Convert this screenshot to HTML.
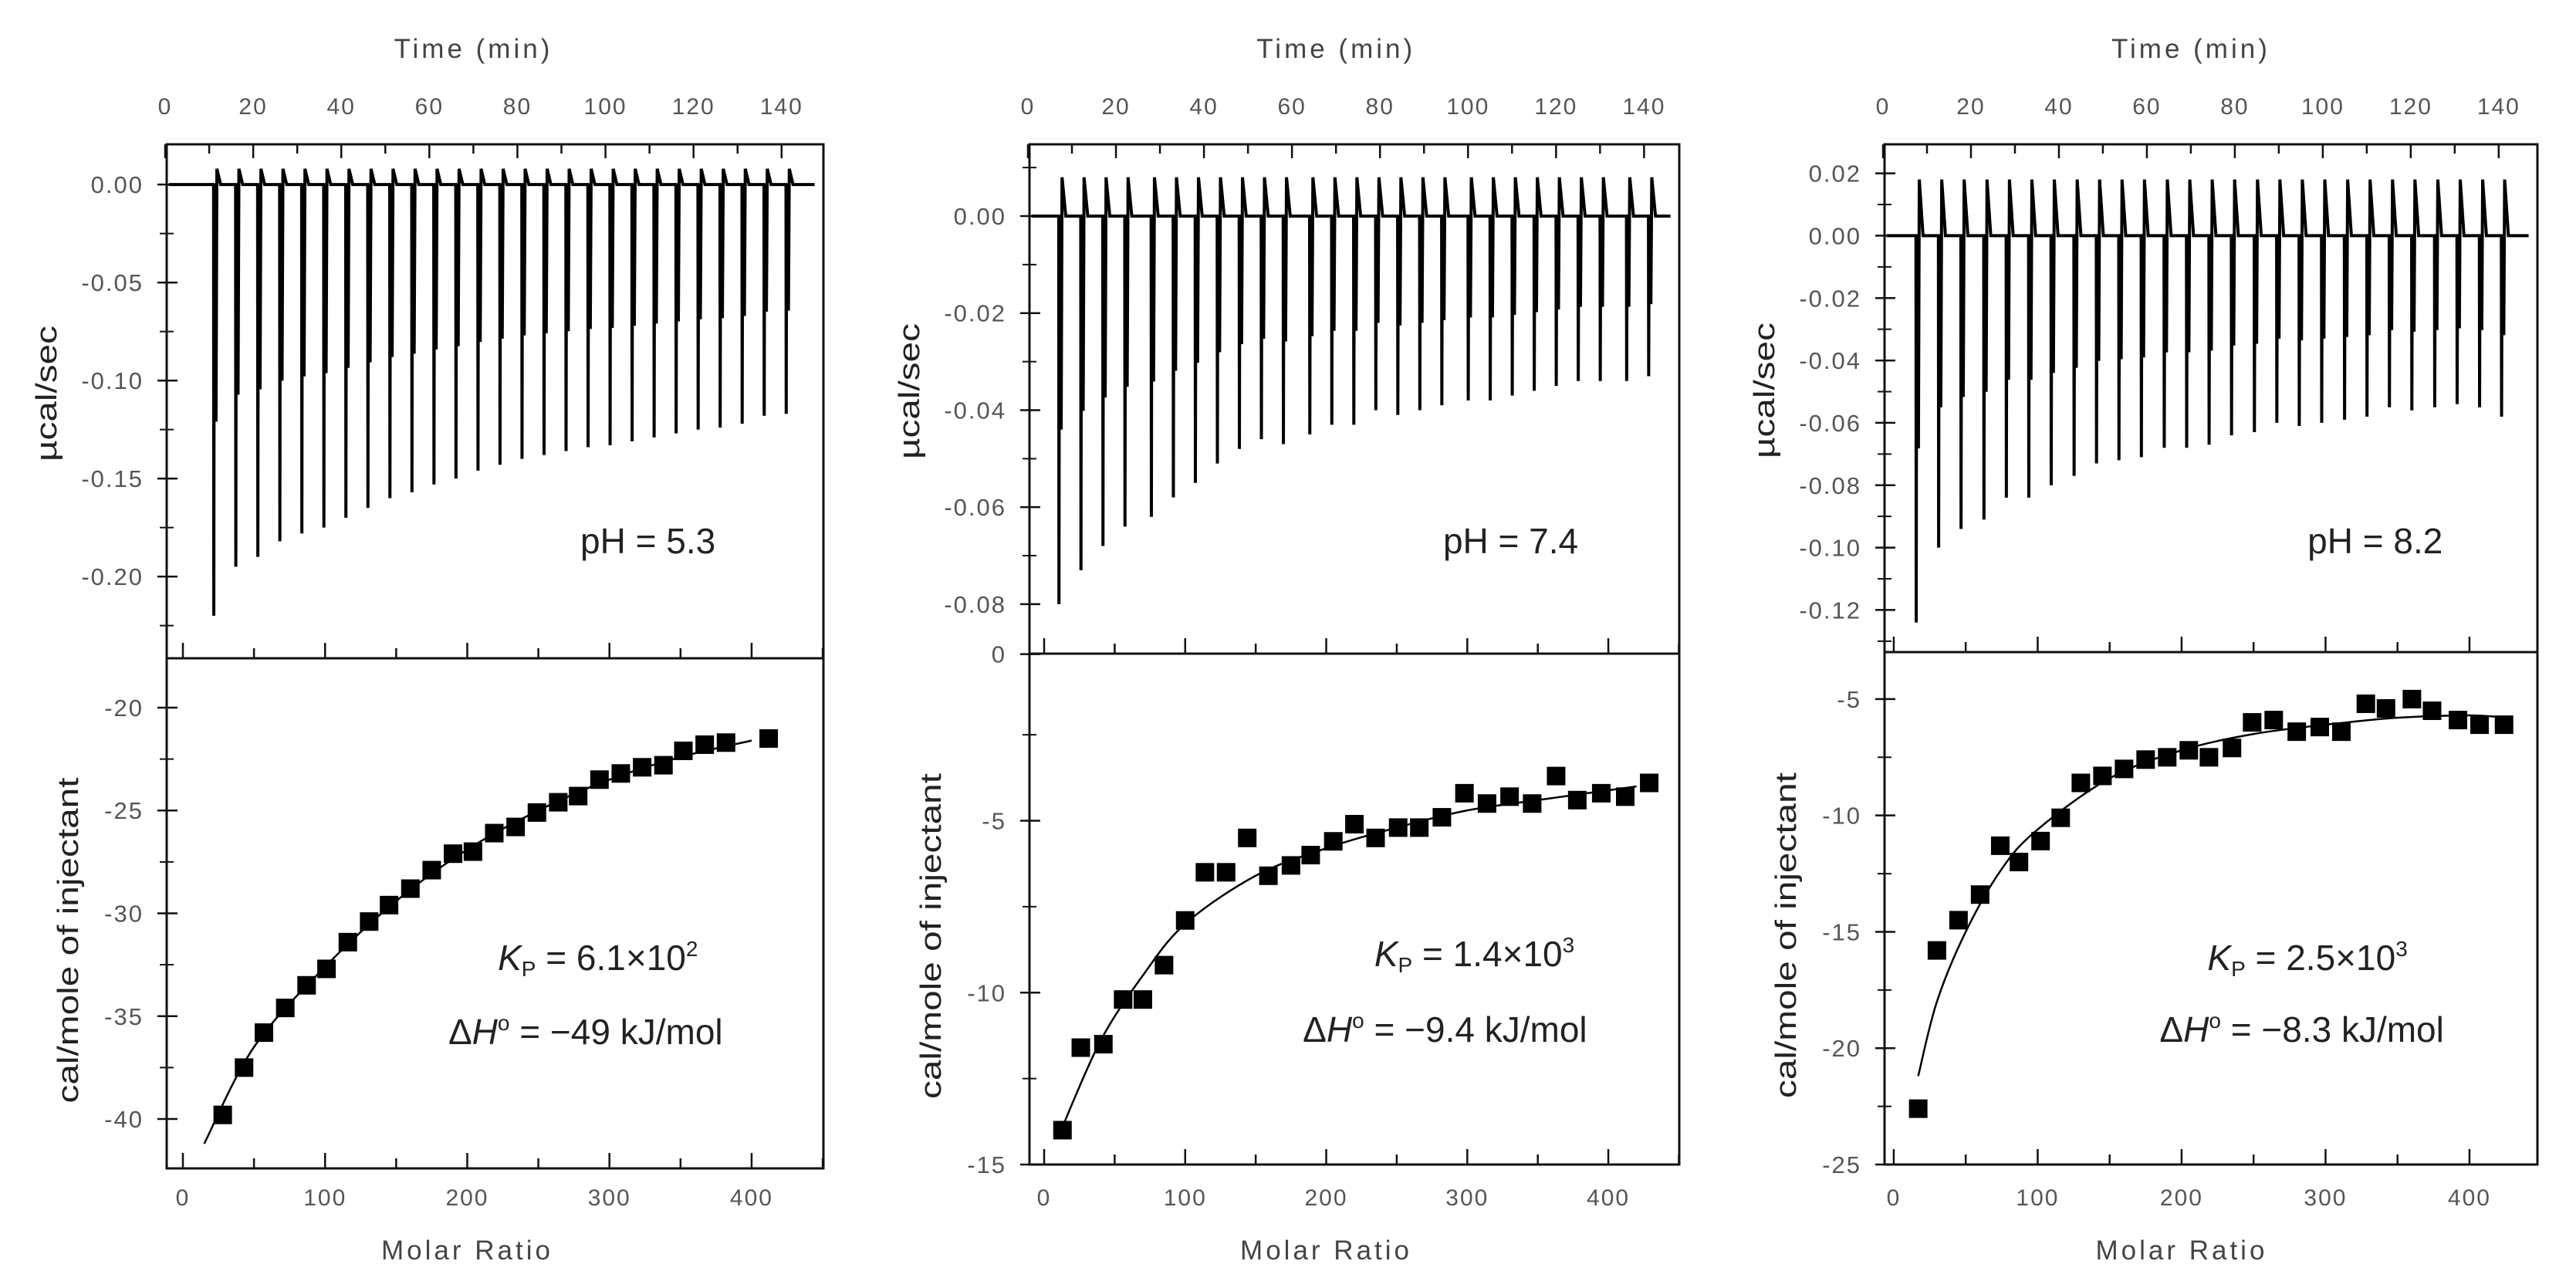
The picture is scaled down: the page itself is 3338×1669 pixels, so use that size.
<!DOCTYPE html>
<html><head><meta charset="utf-8"><style>
html,body{margin:0;padding:0;background:#fff;}
svg{display:block;}
</style></head><body>
<svg id="fig" width="3338" height="1669" viewBox="0 0 3338 1669" xmlns="http://www.w3.org/2000/svg"></svg>
<script>
// ---------- data ----------
const times1 = [11,16,21,26,31,36,41,46,51,56,61,66,71,76,81,86,91,96,101,106,111,116,121,126,131,136,141];
const mins1 = [-0.220,-0.195,-0.190,-0.182,-0.178,-0.175,-0.170,-0.165,-0.160,-0.157,-0.153,-0.150,-0.146,-0.143,-0.140,-0.138,-0.136,-0.134,-0.133,-0.131,-0.129,-0.127,-0.125,-0.124,-0.122,-0.118,-0.117];
const times2 = [7,12,17,22,28,33,38,43,48,53,58,64,69,74,79,84,89,94,100,105,110,115,120,125,130,136,141];
const mins2 = [-0.080,-0.073,-0.068,-0.064,-0.062,-0.058,-0.055,-0.051,-0.048,-0.046,-0.047,-0.045,-0.043,-0.043,-0.040,-0.041,-0.040,-0.039,-0.038,-0.038,-0.037,-0.036,-0.035,-0.034,-0.034,-0.034,-0.033];
const times3 = [7.5,12.6,17.7,22.9,28,33.1,38.2,43.4,48.5,53.6,58.7,63.9,69,74.1,79.2,84.4,89.5,94.6,99.7,104.9,110,115.1,120.2,125.4,130.5,135.6,140.6];
const mins3 = [-0.124,-0.100,-0.094,-0.091,-0.084,-0.084,-0.080,-0.077,-0.073,-0.072,-0.071,-0.068,-0.068,-0.067,-0.064,-0.063,-0.060,-0.061,-0.060,-0.059,-0.058,-0.055,-0.056,-0.055,-0.054,-0.055,-0.058];
const overshoots = [0.008, 0.008, 0.018];

const ratio1 = [28,43,57,72,87,101,116,131,145,160,175,190,204,219,234,249,264,278,293,308,323,338,352,367,382,412];
const heat1 = [-39.8,-37.5,-35.8,-34.6,-33.5,-32.7,-31.4,-30.4,-29.6,-28.8,-27.9,-27.1,-27.0,-26.1,-25.8,-25.1,-24.6,-24.3,-23.5,-23.2,-22.9,-22.8,-22.1,-21.8,-21.7,-21.5];
const fitX1 = [15,50,100,150,200,250,300,350,400];
const fitY1 = [-41.2,-36.5,-32.6,-29.4,-26.9,-25.0,-23.5,-22.4,-21.6];

const ratio2 = [13,26,42,56,70,85,100,114,129,144,159,175,189,205,220,235,251,266,282,298,314,330,346,363,378,395,412,429];
const heat2 = [-14.0,-11.6,-11.5,-10.2,-10.2,-9.2,-7.9,-6.5,-6.5,-5.5,-6.6,-6.3,-6.0,-5.6,-5.1,-5.5,-5.2,-5.2,-4.9,-4.2,-4.5,-4.3,-4.5,-3.7,-4.4,-4.2,-4.3,-3.9];
const fitX2 = [12,40,70,100,150,200,250,300,350,420];
const fitY2 = [-14.0,-11.4,-9.5,-8.0,-6.6,-5.8,-5.2,-4.7,-4.4,-4.0];

const ratio3 = [17,30,45,60,74,87,102,116,130,145,160,175,190,205,219,235,249,264,280,296,311,328,342,360,374,392,407,424];
const heat3 = [-22.6,-15.8,-14.5,-13.4,-11.3,-12.0,-11.1,-10.1,-8.6,-8.3,-8.0,-7.6,-7.5,-7.2,-7.5,-7.1,-6.0,-5.9,-6.4,-6.2,-6.4,-5.2,-5.4,-5.0,-5.5,-5.9,-6.1,-6.1];
const fitX3 = [17,30,50,75,100,150,200,250,300,350,400,425];
const fitY3 = [-21.2,-18.0,-15.0,-12.3,-10.6,-8.4,-7.2,-6.5,-6.1,-5.8,-5.7,-5.8];

const timeTicks = [0,20,40,60,80,100,120,140];
const ratioTicks = [0,100,200,300,400];
const rawTicks1 = [0,-0.05,-0.10,-0.15,-0.20];
const rawLabels1 = ["0.00","-0.05","-0.10","-0.15","-0.20"];
const rawTicks2 = [0,-0.02,-0.04,-0.06,-0.08,-0.0903];
const rawLabels2 = ["0.00","-0.02","-0.04","-0.06","-0.08","0"];
const rawTicks3 = [0.02,0,-0.02,-0.04,-0.06,-0.08,-0.10,-0.12];
const rawLabels3 = ["0.02","0.00","-0.02","-0.04","-0.06","-0.08","-0.10","-0.12"];
const heatTicks1 = [-20,-25,-30,-35,-40];
const heatTicks2 = [-5,-10,-15];
const heatTicks3 = [-5,-10,-15,-20,-25];

// ---------- drawing ----------
const NS = "http://www.w3.org/2000/svg";
const svg = document.getElementById("fig");
function mk(tag, attrs, parent){ const e=document.createElementNS(NS,tag); for(const k in attrs) e.setAttribute(k,attrs[k]); (parent||svg).appendChild(e); return e; }
function lin(d0,d1,p0,p1){ return v => p0 + (v-d0)*(p1-p0)/(d1-d0); }
const TICKC="#555";
const FONT='"Liberation Sans", Arial, sans-serif';
const ZX = 1112/1560;

const panels = [
 {id:1, L:216,R:1067,T:187,M:853,B:1514, tmin:0.35,tmax:149.5, rtop:0.0205,rbot:-0.2417, rmin:-11.4,rmax:450.5, htop:-17.6,hbot:-42.4,
  times:times1,mins:mins1,ov:overshoots[0], rTicks:rawTicks1,rLabels:rawLabels1,rMinorStep:0.025,
  ratio:ratio1,heat:heat1,fitX:fitX1,fitY:fitY1,hTicks:heatTicks1,hMinorStep:2.5,
  ph:"pH = 5.3", phX:0+1055*ZX, kp:"6.1×10", kpExp:"2", kpX:0+905*ZX, dh:"−49 kJ/mol", dhX:0+815*ZX, phY:717, kpY:1257, dhY:1353},
 {id:2, L:1334,R:2176,T:187,M:847,B:1509, tmin:0.35,tmax:148, rtop:0.0148,rbot:-0.0902, rmin:-10.4,rmax:450.3, htop:-0.14,hbot:-15.0,
  times:times2,mins:mins2,ov:overshoots[1], rTicks:rawTicks2,rLabels:rawLabels2,rMinorStep:0.01,
  ratio:ratio2,heat:heat2,fitX:fitX2,fitY:fitY2,hTicks:heatTicks2,hMinorStep:2.5,
  ph:"pH = 7.4", phX:1150+1010*ZX, kp:"1.4×10", kpExp:"3", kpX:1150+885*ZX, dh:"−9.4 kJ/mol", dhX:1150+755*ZX, phY:717, kpY:1252, dhY:1350},
 {id:3, L:2442,R:3288,T:187,M:845,B:1509, tmin:0.35,tmax:148.8, rtop:0.0293,rbot:-0.1335, rmin:-6.4,rmax:447.2, htop:-2.98,hbot:-25.0,
  times:times3,mins:mins3,ov:overshoots[2], rTicks:rawTicks3,rLabels:rawLabels3,rMinorStep:0.01,
  ratio:ratio3,heat:heat3,fitX:fitX3,fitY:fitY3,hTicks:heatTicks3,hMinorStep:2.5,
  ph:"pH = 8.2", phX:2226+1072*ZX, kp:"2.5×10", kpExp:"3", kpX:2226+890*ZX, dh:"−8.3 kJ/mol", dhX:2226+803*ZX, phY:717, kpY:1257, dhY:1350}
];

panels.forEach(p=>{
  const g = mk("g",{});
  
  
  const tx = lin(p.tmin,p.tmax,p.L,p.R);
  const ry = lin(p.rtop,p.rbot,p.T,p.M);
  const mx = lin(p.rmin,p.rmax,p.L,p.R);
  const hy = lin(p.htop,p.hbot,p.M,p.B);

  const fr = mk("rect",{x:p.L,y:p.T,width:p.R-p.L,height:p.B-p.T,fill:"none",stroke:"#111","stroke-width":3},g);
   
  const mid = mk("line",{x1:p.L,x2:p.R,y1:p.M,y2:p.M,stroke:"#111","stroke-width":3},g);
   

  for(let t=0;t<=p.tmax;t+=10){
    const x=tx(t); const major = t%20===0;
    mk("line",{x1:x,x2:x,y1:p.T,y2:p.T+(major?18:12),stroke:"#111","stroke-width":2.5},g);
  }
  timeTicks.forEach(t=>{
    const e=mk("text",{x:tx(t),y:148,"text-anchor":"middle","font-family":FONT,"font-size":30,fill:TICKC,"letter-spacing":2},g);
    e.textContent=t;
     
  });
  const tt=mk("text",{x:tx(70),y:75,"text-anchor":"middle","font-family":FONT,"font-size":35,fill:"#444","letter-spacing":4},g);
  tt.textContent="Time (min)";
   

  let start=Math.ceil(p.rbot/p.rMinorStep)*p.rMinorStep;
  for(let v=start; v<=p.rtop+1e-9; v+=p.rMinorStep){
    const y=ry(v); if(y<p.T+2||y>p.M-2) continue;
    mk("line",{x1:p.L-9,x2:p.L+9,y1:y,y2:y,stroke:"#111","stroke-width":2},g);
  }
  p.rTicks.forEach((v,i)=>{
    const y=ry(v);
    mk("line",{x1:p.L-12,x2:p.L+14,y1:y,y2:y,stroke:"#111","stroke-width":2.5},g);
    const e=mk("text",{x:p.L-30,y:y+11,"text-anchor":"end","font-family":FONT,"font-size":31,fill:TICKC,"letter-spacing":2},g);
    e.textContent=p.rLabels[i];
     
  });
  const ya=mk("text",{transform:`translate(${p.L-143},${(p.T+p.M)/2-10}) rotate(-90)`,"text-anchor":"middle","font-family":FONT,"font-size":38,fill:"#222",textLength:176,lengthAdjust:"spacingAndGlyphs"},g);
  ya.textContent="µcal/sec";
   

  let d=`M${tx(p.tmin+0.5)},${ry(0)}`;
  p.times.forEach((t,i)=>{
    const m=p.mins[i];
    d+=` L${tx(t)},${ry(0)} L${tx(t+0.05)},${ry(m)} L${tx(t+0.15)},${ry(0)} L${tx(t+0.55)},${ry(m*0.55)} L${tx(t+0.75)},${ry(p.ov)} L${tx(t+1.6)},${ry(0)}`;
  });
  d+=` L${tx(p.tmax-2)},${ry(0)}`;
  const tr=mk("path",{d:d,fill:"none",stroke:"#000","stroke-width":4,"stroke-linejoin":"miter"},g);
   

  const ph=mk("text",{x:p.phX,y:p.phY,"font-family":FONT,"font-size":46,fill:"#222"},g);
  ph.textContent=p.ph;
   

  for(let v=0; v<=p.rmax; v+=50){
    const x=mx(v); const major=v%100===0;
    mk("line",{x1:x,x2:x,y1:p.B,y2:p.B-(major?20:13),stroke:"#111","stroke-width":2.5},g);
    mk("line",{x1:x,x2:x,y1:p.M,y2:p.M-(major?20:13),stroke:"#111","stroke-width":2.5},g);
  }
  ratioTicks.forEach(v=>{
    const e=mk("text",{x:mx(v),y:1562,"text-anchor":"middle","font-family":FONT,"font-size":30,fill:TICKC,"letter-spacing":2},g);
    e.textContent=v;
     
  });
  const xt=mk("text",{x:mx(200),y:1632,"text-anchor":"middle","font-family":FONT,"font-size":35,fill:"#444","letter-spacing":4},g);
  xt.textContent="Molar Ratio";
   

  start=Math.ceil(p.hbot/p.hMinorStep)*p.hMinorStep;
  for(let v=start; v<=p.htop+1e-9; v+=p.hMinorStep){
    const y=hy(v); if(y<p.M+2||y>p.B-2) continue;
    mk("line",{x1:p.L-9,x2:p.L+9,y1:y,y2:y,stroke:"#111","stroke-width":2},g);
  }
  p.hTicks.forEach(v=>{
    const y=hy(v);
    mk("line",{x1:p.L-12,x2:p.L+14,y1:y,y2:y,stroke:"#111","stroke-width":2.5},g);
    const e=mk("text",{x:p.L-30,y:y+11,"text-anchor":"end","font-family":FONT,"font-size":31,fill:TICKC,"letter-spacing":2},g);
    e.textContent=v;
     
  });
  const ha=mk("text",{transform:`translate(${p.L-115},${(p.M+p.B)/2+35}) rotate(-90)`,"text-anchor":"middle","font-family":FONT,"font-size":38,fill:"#222",textLength:422,lengthAdjust:"spacingAndGlyphs"},g);
  ha.textContent="cal/mole of injectant";
   

  const pts=p.fitX.map((v,i)=>[mx(v),hy(p.fitY[i])]);
  let fd=`M${pts[0][0]},${pts[0][1]}`;
  for(let i=0;i<pts.length-1;i++){
    const p0=pts[Math.max(0,i-1)],p1=pts[i],p2=pts[i+1],p3=pts[Math.min(pts.length-1,i+2)];
    fd+=` C${p1[0]+(p2[0]-p0[0])/6},${p1[1]+(p2[1]-p0[1])/6} ${p2[0]-(p3[0]-p1[0])/6},${p2[1]-(p3[1]-p1[1])/6} ${p2[0]},${p2[1]}`;
  }
  const fit=mk("path",{d:fd,fill:"none",stroke:"#000","stroke-width":2.5},g);
   

  p.ratio.forEach((v,i)=>{
    const s=mk("rect",{x:mx(v)-12,y:hy(p.heat[i])-12,width:24,height:24,fill:"#000"},g);
     
  });

  const kp=mk("text",{x:p.kpX,y:p.kpY,"font-family":FONT,"font-size":46,fill:"#222"},g);
   
  const k1=mk("tspan",{"font-style":"italic"},kp); k1.textContent="K";
  const k2=mk("tspan",{"font-size":28,dy:8},kp); k2.textContent="P";
  const k3=mk("tspan",{dy:-8},kp); k3.textContent=" = "+p.kp;
  const k4=mk("tspan",{"font-size":28,dy:-18},kp); k4.textContent=p.kpExp;
  const dh=mk("text",{x:p.dhX,y:p.dhY,"font-family":FONT,"font-size":46,fill:"#222"},g);
   
  const d1=mk("tspan",{},dh); d1.textContent="Δ";
  const d2=mk("tspan",{"font-style":"italic"},dh); d2.textContent="H";
  const d3=mk("tspan",{"font-size":28,dy:-18},dh); d3.textContent="o";
  const d4=mk("tspan",{dy:18},dh); d4.textContent=" = "+p.dh;
});
</script>
</body></html>
